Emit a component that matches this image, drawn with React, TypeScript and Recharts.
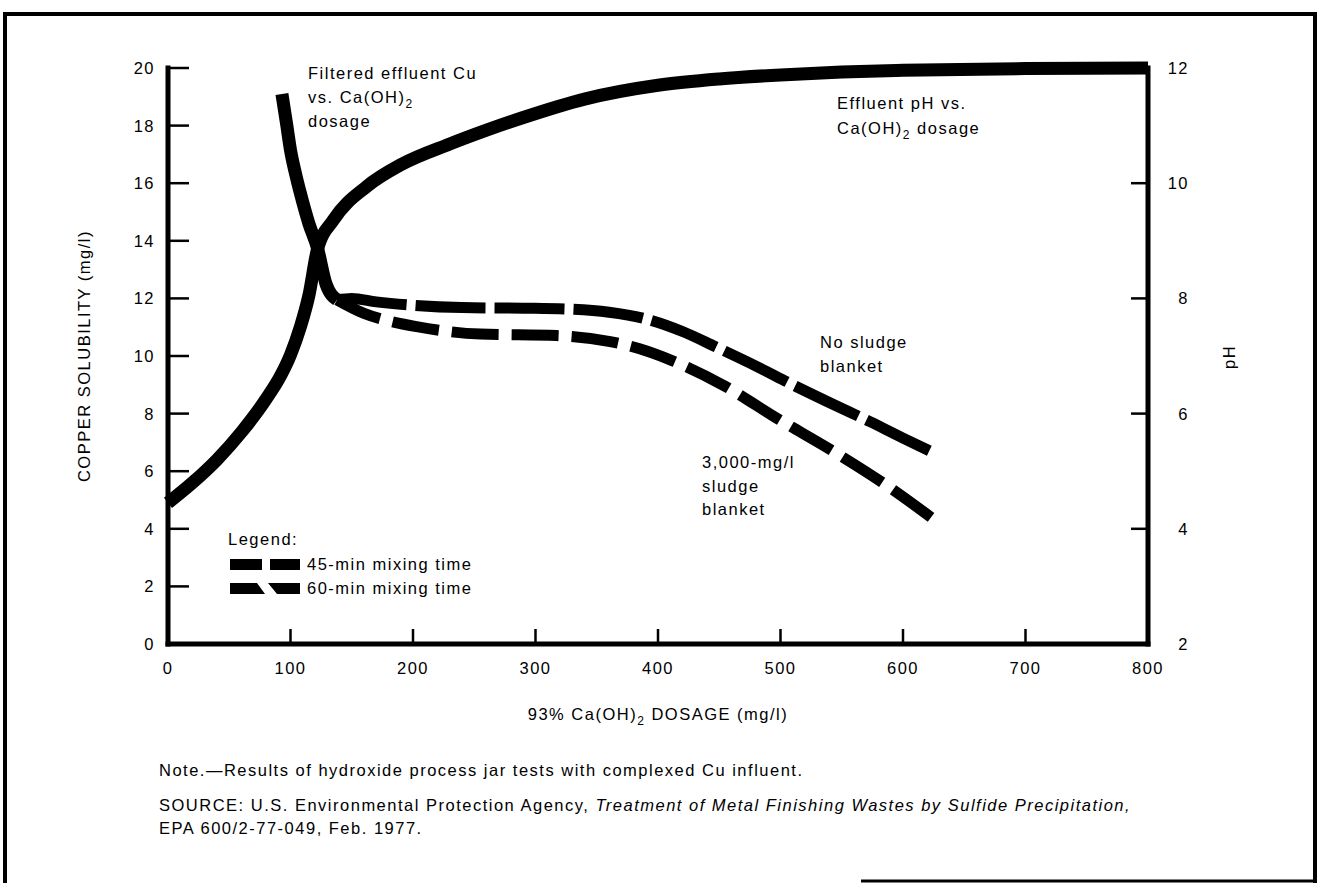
import React from "react";
import { LineChart, Line, XAxis, YAxis, Legend } from "recharts";

const FONT = '"Liberation Sans", Arial, Helvetica, sans-serif';
const FONT_SIZE = 16.5;
const SPACING = 1.5;

// axis ticks
const dosageTicks = [0, 100, 200, 300, 400, 500, 600, 700, 800];
const copperTicks = [0, 2, 4, 6, 8, 10, 12, 14, 16, 18, 20];
const phTicks = [2, 4, 6, 8, 10, 12];

// effluent pH vs. Ca(OH)2 dosage (right axis)
const phDosage = [0, 20, 40, 60, 80, 92, 100, 108, 115, 122, 135, 162, 190, 230, 260, 290, 340, 400, 450, 500, 550, 600, 700, 800];
const phValues = [4.45, 4.8, 5.2, 5.68, 6.25, 6.66, 7.02, 7.5, 8.05, 8.85, 9.36, 9.94, 10.32, 10.68, 10.92, 11.14, 11.46, 11.7, 11.81, 11.88, 11.93, 11.96, 11.99, 12.0];

// filtered effluent Cu, solid part before the split (left axis)
const cuDosage = [93, 97, 100, 104, 108, 115, 122, 129, 138];
const cuValues = [19.1, 18.0, 17.15, 16.35, 15.66, 14.6, 13.75, 12.5, 11.95];

// no sludge blanket (60-min mixing)
const noBlanketDosage = [138, 150, 170, 200, 240, 290, 331, 360, 388, 420, 447, 480, 510, 545, 573, 600, 626];
const noBlanketCu = [11.95, 12.0, 11.88, 11.76, 11.68, 11.66, 11.62, 11.52, 11.31, 10.85, 10.32, 9.65, 9.0, 8.28, 7.72, 7.15, 6.62];

// 3,000-mg/l sludge blanket (45-min mixing)
const blanketDosage = [138, 160, 180, 203, 255, 317, 361, 385, 408, 453, 497, 545, 589, 626];
const blanketCu = [11.95, 11.48, 11.22, 11.02, 10.76, 10.71, 10.5, 10.25, 9.9, 8.99, 7.84, 6.64, 5.44, 4.3];

const mixingTimes = ["45-min mixing time", "60-min mixing time"];

const toPoints = (xs: number[], ys: number[]) =>
  xs.map((x, i) => ({ dosage: x, value: ys[i] }));

const textStyle: React.CSSProperties = {
  fontFamily: FONT,
  fontSize: FONT_SIZE,
  letterSpacing: SPACING,
  fill: "#000",
};

// ticks point into the plot, labels outside
function LeftTick({ x, y, payload }: any) {
  return (
    <g>
      <line x1={x + 13} x2={x + 34} y1={y} y2={y} stroke="#000" strokeWidth={2.5} />
      <text x={x} y={y} dy="0.36em" textAnchor="end" style={textStyle}>
        {payload.value}
      </text>
    </g>
  );
}

function RightTick({ x, y, payload }: any) {
  return (
    <g>
      <line x1={x} x2={x - 17} y1={y} y2={y} stroke="#000" strokeWidth={2.5} />
      <text x={x + 41} y={y} dy="0.36em" textAnchor="end" style={textStyle}>
        {payload.value}
      </text>
    </g>
  );
}

function BottomTick({ x, y, payload }: any) {
  return (
    <g>
      <line x1={x} x2={x} y1={y - 18} y2={y - 33} stroke="#000" strokeWidth={2.5} />
      <text x={x} y={y} dy="0.71em" textAnchor="middle" style={textStyle}>
        {payload.value}
      </text>
    </g>
  );
}

function MixingLegend() {
  return (
    <svg width={290} height={75} style={{ display: "block" }}>
      <text x={2} y={17} style={textStyle}>Legend:</text>
      <rect x={4} y={31} width={32} height={11} fill="#000" />
      <rect x={44} y={31} width={30} height={11} fill="#000" />
      <text x={81} y={42} style={textStyle}>{mixingTimes[0]}</text>
      <polygon points="4,55 31,55 39,66 4,66" fill="#000" />
      <polygon points="42,55 74,55 74,66 51,66" fill="#000" />
      <text x={81} y={66} style={textStyle}>{mixingTimes[1]}</text>
    </svg>
  );
}

export default function App() {
  return (
    <div style={{ position: "absolute", left: 0, top: 0, width: 1319, height: 883, background: "#fff" }}>
      <LineChart
        width={1319}
        height={883}
        margin={{ top: 68, right: 111, bottom: 199, left: 108 }}
      >
        <XAxis
          dataKey="dosage"
          type="number"
          domain={[0, 800]}
          ticks={dosageTicks}
          interval={0}
          height={40}
          tickSize={0}
          tickMargin={18}
          tickLine={false}
          tick={<BottomTick />}
          axisLine={{ stroke: "#000", strokeWidth: 5, strokeLinecap: "square" }}
        />
        <YAxis
          yAxisId="cu"
          orientation="left"
          domain={[0, 20]}
          ticks={copperTicks}
          interval={0}
          width={60}
          tickSize={0}
          tickMargin={13}
          tickLine={false}
          tick={<LeftTick />}
          axisLine={{ stroke: "#000", strokeWidth: 5, strokeLinecap: "square" }}
        />
        <YAxis
          yAxisId="ph"
          orientation="right"
          domain={[2, 12]}
          ticks={phTicks}
          interval={0}
          width={60}
          tickSize={0}
          tickMargin={0}
          tickLine={false}
          tick={<RightTick />}
          axisLine={{ stroke: "#000", strokeWidth: 5, strokeLinecap: "square" }}
        />
        <Legend
          layout="vertical"
          align="center"
          verticalAlign="middle"
          wrapperStyle={{ left: 226, top: 528, width: 290, height: 75 }}
          content={() => <MixingLegend />}
        />
        <Line
          yAxisId="ph"
          data={toPoints(phDosage, phValues)}
          dataKey="value"
          type="monotone"
          stroke="#000"
          strokeWidth={13}
          dot={false}
          activeDot={false}
          isAnimationActive={false}
        />
        <Line
          yAxisId="cu"
          data={toPoints(cuDosage, cuValues)}
          dataKey="value"
          type="monotone"
          stroke="#000"
          strokeWidth={13}
          dot={false}
          activeDot={false}
          isAnimationActive={false}
        />
        <Line
          yAxisId="cu"
          data={toPoints(noBlanketDosage, noBlanketCu)}
          dataKey="value"
          type="monotone"
          stroke="#000"
          strokeWidth={11}
          strokeDasharray="70 9"
          dot={false}
          activeDot={false}
          isAnimationActive={false}
        />
        <Line
          yAxisId="cu"
          data={toPoints(blanketDosage, blanketCu)}
          dataKey="value"
          type="monotone"
          stroke="#000"
          strokeWidth={11}
          strokeDasharray="47 13"
          dot={false}
          activeDot={false}
          isAnimationActive={false}
        />
      </LineChart>

      <svg
        width={1319}
        height={883}
        style={{ position: "absolute", left: 0, top: 0, pointerEvents: "none" }}
      >
        {/* figure frame */}
        <line x1={5} x2={5} y1={12} y2={883} stroke="#000" strokeWidth={4} />
        <line x1={3} x2={1317} y1={14} y2={14} stroke="#000" strokeWidth={4} />
        <line x1={1315} x2={1315} y1={12} y2={883} stroke="#000" strokeWidth={4} />
        <line x1={861} x2={1317} y1={881} y2={881} stroke="#000" strokeWidth={3} />

        <g style={textStyle}>
          <text transform="translate(90,356) rotate(-90)" textAnchor="middle">
            COPPER SOLUBILITY (mg/l)
          </text>
          <text transform="translate(1235,357) rotate(-90)" textAnchor="middle">
            pH
          </text>
          <text x={658} y={720} textAnchor="middle">
            93% Ca(OH)
            <tspan dy={5} fontSize={12}>2</tspan>
            <tspan dy={-5}> DOSAGE (mg/l)</tspan>
          </text>

          <text x={308} y={79}>Filtered effluent Cu</text>
          <text x={308} y={103}>
            vs. Ca(OH)
            <tspan dy={5} fontSize={12}>2</tspan>
          </text>
          <text x={308} y={127}>dosage</text>

          <text x={837} y={109}>Effluent pH vs.</text>
          <text x={837} y={134}>
            Ca(OH)
            <tspan dy={5} fontSize={12}>2</tspan>
            <tspan dy={-5}> dosage</tspan>
          </text>

          <text x={820} y={348}>No sludge</text>
          <text x={820} y={372}>blanket</text>

          <text x={702} y={468}>3,000-mg/l</text>
          <text x={702} y={492}>sludge</text>
          <text x={702} y={515}>blanket</text>

          <text x={159} y={776}>
            Note.—Results of hydroxide process jar tests with complexed Cu influent.
          </text>
          <text x={159} y={811}>
            SOURCE: U.S. Environmental Protection Agency,{" "}
            <tspan fontStyle="italic">
              Treatment of Metal Finishing Wastes by Sulfide Precipitation,
            </tspan>
          </text>
          <text x={159} y={834}>EPA 600/2-77-049, Feb. 1977.</text>
        </g>
      </svg>
    </div>
  );
}
